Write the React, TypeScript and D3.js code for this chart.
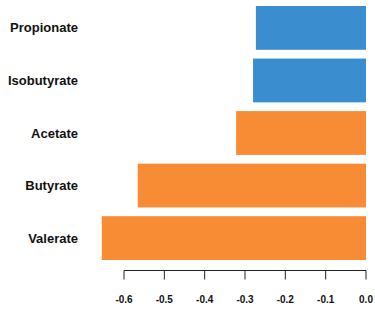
import React from 'react';
import * as d3 from 'd3';

const categories = ['Propionate', 'Isobutyrate', 'Acetate', 'Butyrate', 'Valerate'];
const values = [-0.273, -0.28, -0.322, -0.566, -0.655];
const groups = ['blue', 'blue', 'orange', 'orange', 'orange'];
const ticks = [-0.6, -0.5, -0.4, -0.3, -0.2, -0.1, 0.0];

const colors: Record<string, string> = { blue: '#3a8ecf', orange: '#f78c35' };

export default function App() {
  const width = 375;
  const height = 309;

  const x = d3.scaleLinear().domain([-0.6, 0]).range([124, 366]);
  const y = d3.scaleBand().domain(categories).range([6, 260]).paddingInner(0.2 / 1.2).paddingOuter(0);

  const axisY = 270.5;
  const font = 'Liberation Sans, Arial, Helvetica, sans-serif';

  return (
    <svg
      width={width}
      height={height}
      style={{ position: 'absolute', left: 0, top: 0, background: '#fff' }}
    >
      {categories.map((c, i) => (
        <g key={c}>
          <rect
            x={x(values[i])}
            y={y(c)}
            width={x(0) - x(values[i])}
            height={y.bandwidth()}
            fill={colors[groups[i]]}
          />
          <text
            x={78}
            y={(y(c) as number) + y.bandwidth() / 2}
            dy="0.35em"
            textAnchor="end"
            fontFamily={font}
            fontWeight="bold"
            fontSize={13}
            fill="#111"
          >
            {c}
          </text>
        </g>
      ))}
      <line x1={x(-0.6)} x2={x(0)} y1={axisY} y2={axisY} stroke="#222" strokeWidth={1} />
      {ticks.map((t) => (
        <g key={t}>
          <line x1={x(t)} x2={x(t)} y1={axisY} y2={axisY + 9} stroke="#222" strokeWidth={1} />
          <text
            x={x(t)}
            y={299}
            dy="0.35em"
            textAnchor="middle"
            fontFamily={font}
            fontWeight="bold"
            fontSize={10}
            fill="#111"
          >
            {t.toFixed(1)}
          </text>
        </g>
      ))}
    </svg>
  );
}
